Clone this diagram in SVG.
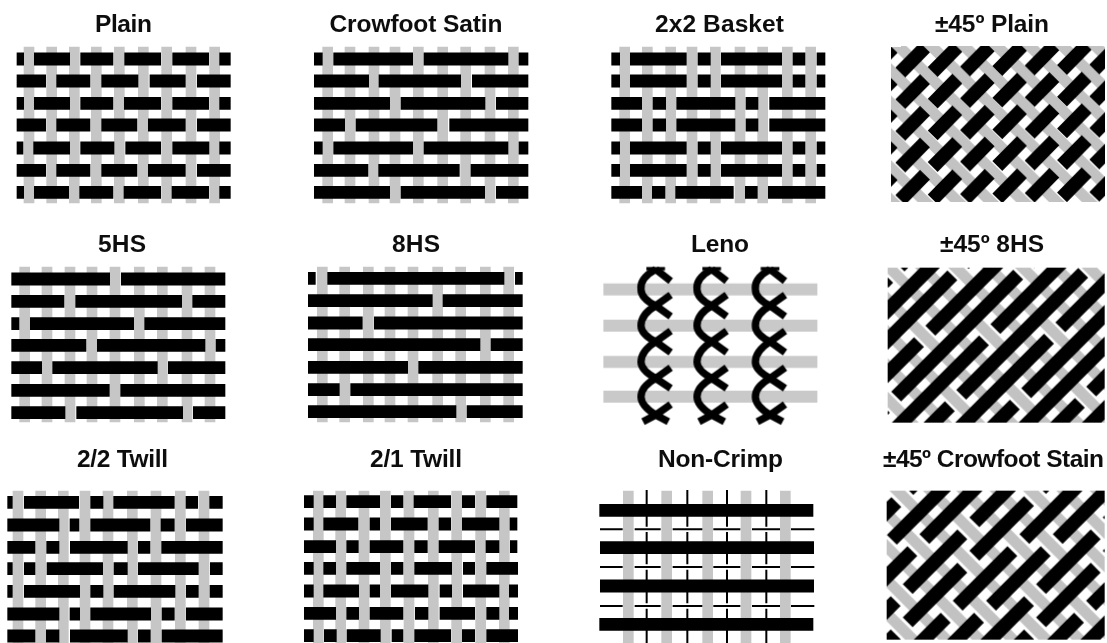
<svg xmlns="http://www.w3.org/2000/svg" width="1107" height="643" viewBox="0 0 1107 643">
<style>
text{font-family:"Liberation Sans",Arial,sans-serif;font-weight:700;font-size:24.5px;fill:#111}
path{fill:none}
.w{stroke:#c6c6c6;stroke-width:32}
.b{stroke:#000;stroke-width:38.500}
.d{stroke:#000;stroke-width:42}
.g{stroke:#c2c2c2;stroke-width:33}
.l{stroke:#000;stroke-width:22}
.t{stroke:#000;stroke-width:6}
</style>
<defs>
<filter id="soft" filterUnits="userSpaceOnUse" x="0" y="0" width="1107" height="643"><feGaussianBlur stdDeviation="0.55"/></filter>
<clipPath id="c1"><rect x="66" y="140" width="637" height="465"/></clipPath>
<clipPath id="c2"><rect x="53" y="158" width="650" height="464"/></clipPath>
<clipPath id="c3"><rect x="50" y="182" width="653" height="446"/></clipPath>
<path id="leno" class="l" d="M0 163L45 198M0 163Q-48 190-44 223Q-44 250 0 272L45 304M45 240L0 272Q-44 298-44 332Q-44 358 0 380L45 412M45 348L0 380Q-44 408-44 441Q-44 466 0 490L45 520M45 458L0 490Q-44 515-44 545Q-44 572 0 600L38 620M45 568L0 600L-38 620"/>
<path id="lenocap" d="M-28 161H28" stroke="#000" stroke-width="10"/>
</defs>
<g filter="url(#soft)">

<g id="plain" transform="translate(0 0) scale(.33333)">
<path class="w" d="M87 140V610M155 140V610M223 140V610M289 140V610M358 140V610M430 140V610M500 140V610M573 140V610M644 140V610"/>
<path class="b" d="M50 177H72M102 177H210M241 177H340M373 177H483M517 177H627M658 177H692M50 243H138M169 243H271M304 243H415M449 243H557M591 243H692M50 310H72M102 310H210M241 310H340M372 310H483M517 310H627M658 310H692M50 375H138M169 375H271M304 375H412M444 375H557M591 375H692M50 444H70M100 444H210M241 444H343M376 444H483M517 444H628M658 444H692M50 511H138M169 511H271M304 511H412M444 511H557M591 511H692M50 577H72M102 577H207M238 577H340M371 577H483M515 577H627M658 577H692"/>
</g>

<g id="crowfoot-satin" transform="translate(290 0) scale(.33333)">
<path class="w" d="M113 140V610M180 140V610M252 140V610M315 140V610M385 140V610M458 140V610M527 140V610M600 140V610M670 140V610"/>
<path class="b" d="M72 177H98M130 177H369M401 177H655M686 177H715M72 243H237M266 243H513M546 243H715M72 310H300M332 310H586M618 310H715M72 375H165M197 375H442M478 375H715M72 444H98M130 444H369M401 444H655M686 444H715M72 511H235M265 511H509M542 511H715M72 577H300M332 577H585M618 577H715"/>
</g>

<g id="basket" transform="translate(590 0) scale(.33333)">
<path class="w" d="M104 140V610M172 140V610M242 140V610M306 140V610M376 140V610M450 140V610M518 140V610M592 140V610M662 140V610"/>
<path class="b" d="M64 177H90M120 177H290M323 177H362M393 177H576M608 177H646M680 177H706M64 243H90M120 243H290M323 243H362M393 243H576M608 243H646M680 243H706M64 310H156M188 310H228M259 310H436M467 310H505M538 310H706M64 375H156M188 375H228M259 375H436M467 375H505M538 375H706M64 444H90M120 444H290M323 444H362M393 444H576M608 444H646M680 444H706M64 511H90M120 511H290M323 511H362M393 511H576M608 511H646M680 511H706M64 577H156M186 577H226M256 577H431M465 577H503M534 577H706"/>
</g>

<g id="bias-plain" transform="translate(870 0) scale(.33333)" clip-path="url(#c1)">
<g transform="matrix(1 -.0157 0 1 0 2)">
<path class="g" d="M-534 100l550 550M-437 100l550 550M-340 100l550 550M-243 100l550 550M-146 100l550 550M-49 100l550 550M48 100l550 550M145 100l550 550M242 100l550 550M339 100l550 550M436 100l550 550M533 100l550 550M630 100l550 550M727 100l550 550"/>
<path class="d" d="M-6 217l74-74M91 217l74-74M188 217l74-74M285 217l74-74M382 217l74-74M479 217l74-74M576 217l74-74M673 217l74-74M-6 312l74-74M91 312l74-74M188 312l74-74M285 312l74-74M382 312l74-74M479 312l74-74M576 312l74-74M673 312l74-74M-6 407l74-74M91 407l74-74M188 407l74-74M285 407l74-74M382 407l74-74M479 407l74-74M576 407l74-74M673 407l74-74M-6 502l74-74M91 502l74-74M188 502l74-74M285 502l74-74M382 502l74-74M479 502l74-74M576 502l74-74M673 502l74-74M-6 599l74-74M91 599l74-74M188 599l74-74M285 599l74-74M382 599l74-74M479 599l74-74M576 599l74-74M673 599l74-74"/>
</g>
</g>

<g id="five-hs" transform="translate(0 215) scale(.33333)">
<path class="w" d="M74 155V622M141 155V622M210 155V622M276 155V622M345 155V622M418 155V622M487 155V622M561 155V622M630 155V622"/>
<path class="b" d="M34 192H330M363 192H676M34 259H193M226 259H546M577 259H676M34 326H58M90 326H402M433 326H676M34 391H259M291 391H616M647 391H676M34 458H126M157 458H473M504 458H676M34 526H329M361 526H676M34 593H196M229 593H549M579 593H676"/>
</g>

<g id="eight-hs" transform="translate(290 215) scale(.33333)">
<path class="w" d="M97 155V622M164 155V622M235 155V622M300 155V622M369 155V622M443 155V622M512 155V622M586 155V622M656 155V622"/>
<path class="b" d="M54 190H77M112 190H643M675 190H698M54 257H428M458 257H698M54 324H218M252 324H698M54 389H571M602 389H698M54 457H354M385 457H698M54 524H149M181 524H698M54 590H499M530 590H698"/>
</g>

<g id="leno-weave" transform="translate(590 215) scale(.33333)">
<path stroke="#c9c9c9" stroke-width="36" d="M40 223H682M40 332H682M40 441H682M40 545H682"/>
<use href="#leno" x="197"/><use href="#leno" x="365"/><use href="#leno" x="540"/>
<use href="#lenocap" x="197"/><use href="#lenocap" x="365"/><use href="#lenocap" x="540"/>
</g>

<g id="bias-eight-hs" transform="translate(870 215) scale(.33333)" clip-path="url(#c2)">
<path class="g" d="M-500 100l550 550M-400 100l550 550M-300 100l550 550M-200 100l550 550M-100 100l550 550M0 100l550 550M100 100l550 550M200 100l550 550M300 100l550 550M400 100l550 550M500 100l550 550M600 100l550 550M700 100l550 550"/>
<path class="d" d="M40 203L54.500 188.500M88.500 154.500L110 133M30 308L210 128M30 398L247 181M281 147L300 128M30 498L147 381M181 347L400 128M30 593L44.500 578.500M78.500 544.500L444.500 178.500M478.500 144.500L500 123M80 638L342 376M376 342L600 118M170 643L239.500 573.500M273.500 539.500L639.500 173.500M673.500 139.500L700 113M265 643L537 371M571 337L790 118M360 643L434.500 568.500M468.500 534.500L720 283M455 643L720 378M550 643L629.500 563.500M663.500 529.500L720 473M645 643L720 568"/>
</g>

<g id="two-two-twill" transform="translate(0 430) scale(.33333)">
<path class="w" d="M54 182V640M122 182V640M190 182V640M255 182V640M324 182V640M397 182V640M468 182V640M541 182V640M612 182V640"/>
<path class="b" d="M22 217H38M72 217H237M271 217H310M340 217H524M557 217H594M628 217H668M22 285H178M209 285H238M271 285H451M482 285H524M558 285H668M22 352H106M139 352H178M210 352H383M414 352H451M484 352H668M22 416H38M72 416H106M140 416H309M341 416H383M414 416H596M630 416H668M22 484H38M72 484H240M271 484H310M341 484H526M558 484H596M629 484H668M22 552H178M209 552H240M271 552H453M485 552H524M558 552H668M22 618H106M138 618H178M210 618H383M414 618H452M485 618H668"/>
</g>

<g id="two-one-twill" transform="translate(290 430) scale(.33333)">
<path class="w" d="M85 182V640M152 182V640M222 182V640M286 182V640M357 182V640M430 182V640M500 182V640M572 182V640M643 182V640"/>
<path class="b" d="M42 215H71M100 215H138M169 215H270M303 215H340M371 215H483M516 215H555M589 215H682M42 282H71M100 282H205M239 282H270M303 282H413M446 282H483M516 282H628M659 282H682M42 350H138M169 350H206M239 350H340M373 350H413M446 350H555M587 350H628M660 350H682M42 415H71M100 415H138M169 415H270M303 415H340M373 415H486M519 415H555M589 415H684M42 483H71M100 483H207M239 483H270M303 483H415M449 483H486M519 483H628M657 483H684M42 550H138M169 550H207M239 550H340M375 550H415M449 550H555M589 550H628M657 550H684M42 617H71M102 617H140M170 617H272M305 617H340M373 617H483M516 617H555M589 617H684"/>
</g>

<g id="non-crimp" transform="translate(590 430) scale(.33333)">
<path class="w" d="M115 182V640M230 182V640M353 182V640M468 182V640M586 182V640"/>
<path class="t" d="M170 180V290M170 306V403M170 419V520M170 536V640M292 180V290M292 306V403M292 419V520M292 536V640M411 180V290M411 306V403M411 419V520M411 536V640M529 180V290M529 306V403M529 419V520M529 536V640M30 298H98M134 298H212M248 298H337M370 298H451M486 298H570M603 298H673M30 411H98M134 411H212M248 411H337M370 411H451M486 411H570M603 411H673M30 528H98M134 528H212M248 528H337M370 528H451M486 528H570M603 528H673"/>
<path class="b" d="M28 241H670M30 353H672M30 468H672M28 583H670"/>
</g>

<g id="bias-crowfoot" transform="translate(870 430) scale(.33333)" clip-path="url(#c3)">
<path class="g" d="M-500 100l550 550M-400 100l550 550M-300 100l550 550M-200 100l550 550M-100 100l550 550M0 100l550 550M100 100l550 550M200 100l550 550M300 100l550 550M400 100l550 550M500 100l550 550M600 100l550 550"/>
<path class="d" d="M30 265L79 216M115 180L130 165M65.500 329.500L250 145M25 465L127 363M163 327L350 140M25 565L77 513M113 477L277 313M313 277L450 140M40 650L77 613M113 577L277 413M313 377L477 213M513 177L530 160M140 650L227 563M263 527L427 363M463 327L640 150M240 650L327 563M363 527L527 363M563 327L730 160M340 650L477 513M513 477L677 313M713 277L730 260M440 650L477 613M513 577L677 413M713 377L730 360M540 650L627 563M663 527L730 460M640 650L730 560"/>
</g>

<g id="labels">
<text x="95" y="32" textLength="57">Plain</text>
<text x="329.500" y="32" textLength="173">Crowfoot Satin</text>
<text x="655" y="32" textLength="129">2x2 Basket</text>
<text x="935" y="32" textLength="114">±45º Plain</text>
<text x="98" y="252" textLength="48">5HS</text>
<text x="392" y="252" textLength="48">8HS</text>
<text x="691" y="252" textLength="58">Leno</text>
<text x="940" y="252" textLength="104">±45º 8HS</text>
<text x="77" y="467" textLength="91">2/2 Twill</text>
<text x="370" y="467" textLength="92">2/1 Twill</text>
<text x="658" y="467" textLength="125">Non-Crimp</text>
<text x="883" y="467" textLength="221">±45º Crowfoot Stain</text>
</g>
</g>
</svg>
